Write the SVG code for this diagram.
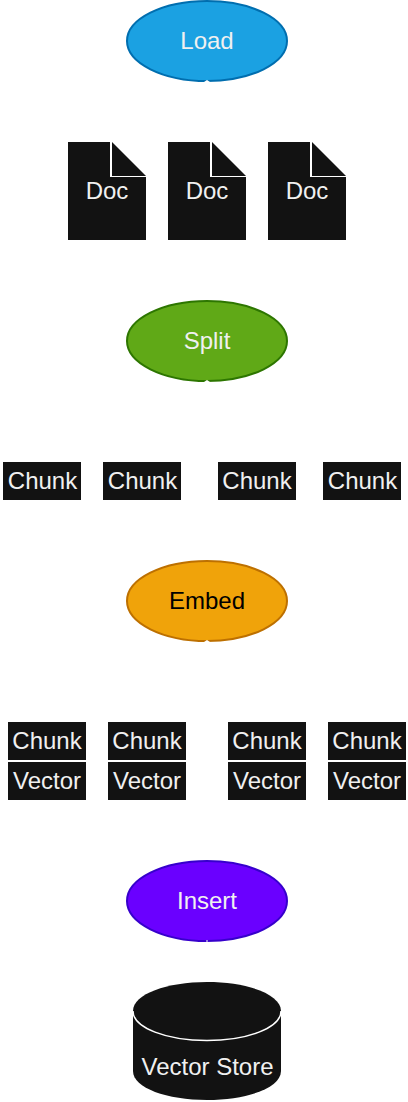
<svg xmlns="http://www.w3.org/2000/svg" width="408" height="1102" viewBox="0 0 408 1102">
<style>
text{font-family:"Liberation Sans",Arial,sans-serif;font-size:24px;fill:#f0f0f0;text-anchor:middle}
.dark{fill:#121212}
.ln{fill:none;stroke:#fff;stroke-width:1}
.e{stroke-width:2}
.notch{fill:#fff}
</style>
<rect width="408" height="1102" fill="#fff"/>
<g id="n-load"><ellipse class="e" cx="207" cy="41" rx="80" ry="40" fill="#1ba1e2" stroke="#006eaf"/><text x="207" y="49">Load</text></g>
<g id="n-doc1"><path class="dark" d="M68 142H110V177H146V240H68Z M112 142L146 176H112Z"/><text x="107" y="199">Doc</text></g>
<g id="n-doc2"><path class="dark" d="M168 142H210V177H246V240H168Z M212 142L246 176H212Z"/><text x="207" y="199">Doc</text></g>
<g id="n-doc3"><path class="dark" d="M268 142H310V177H346V240H268Z M312 142L346 176H312Z"/><text x="307" y="199">Doc</text></g>
<g id="n-split"><ellipse class="e" cx="207" cy="341" rx="80" ry="40" fill="#60a917" stroke="#2d7600"/><text x="207" y="349">Split</text></g>
<g id="n-c1"><rect class="dark" x="3" y="462" width="78" height="38"/><text x="42.500" y="489">Chunk</text></g>
<g id="n-c2"><rect class="dark" x="103" y="462" width="78" height="38"/><text x="142.500" y="489">Chunk</text></g>
<g id="n-c3"><rect class="dark" x="218" y="462" width="78" height="38"/><text x="257" y="489">Chunk</text></g>
<g id="n-c4"><rect class="dark" x="323" y="462" width="78" height="38"/><text x="362.500" y="489">Chunk</text></g>
<g id="n-embed"><ellipse class="e" cx="207" cy="601" rx="80" ry="40" fill="#f0a30a" stroke="#bd7000"/><text x="207" y="609" style="fill:#000">Embed</text></g>
<g id="n-cv1"><rect class="dark" x="8" y="722" width="78" height="38"/><text x="47" y="749">Chunk</text><rect class="dark" x="8" y="762" width="78" height="38"/><text x="47" y="789">Vector</text></g>
<g id="n-cv2"><rect class="dark" x="108" y="722" width="78" height="38"/><text x="147" y="749">Chunk</text><rect class="dark" x="108" y="762" width="78" height="38"/><text x="147" y="789">Vector</text></g>
<g id="n-cv3"><rect class="dark" x="228" y="722" width="78" height="38"/><text x="267" y="749">Chunk</text><rect class="dark" x="228" y="762" width="78" height="38"/><text x="267" y="789">Vector</text></g>
<g id="n-cv4"><rect class="dark" x="328" y="722" width="78" height="38"/><text x="367" y="749">Chunk</text><rect class="dark" x="328" y="762" width="78" height="38"/><text x="367" y="789">Vector</text></g>
<g id="n-insert"><ellipse class="e" cx="207" cy="901" rx="80" ry="40" fill="#6a00ff" stroke="#3700cc"/><text x="207" y="909">Insert</text></g>
<g id="n-store"><path class="dark" d="M133 1011C133 994 167 982 207 982S281 994 281 1011V1071C281 1088 247 1100 207 1100S133 1088 133 1071Z"/><path class="ln" style="stroke-width:1.5" d="M133 1011C133 1028 167 1040.500 207 1040.500S281 1028 281 1011"/><text x="207.500" y="1075">Vector Store</text></g>
<g id="connectors">
<path class="notch" d="M204 82L207 80L210 82Z"/>
<path class="notch" d="M204 382L207 380L210 382Z"/>
<path class="notch" d="M204 642L207 640L210 642Z"/>
<path class="ln" d="M207 940V960"/>
</g>
</svg>
